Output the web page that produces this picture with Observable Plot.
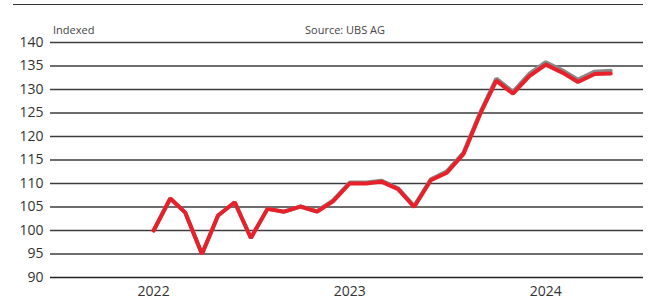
<!DOCTYPE html>
<html>
<head>
<meta charset="utf-8">
<script src="https://cdn.jsdelivr.net/npm/d3@7"></script>
<script src="https://cdn.jsdelivr.net/npm/@observablehq/plot@0.6"></script>
<style>
  body { margin: 0; background: #fff; }
  #wrap { position: relative; width: 649px; height: 302px; font-family: "Open Sans", sans-serif; }
  #rule { position: absolute; left: 13px; right: 6px; top: 4px; height: 0; border-top: 1.5px solid #333; }
  .hdr { position: absolute; top: 22px; font-size: 11px; color: #444; }
</style>
</head>
<body>
<div id="wrap">
  <div id="rule"></div>
  <div class="hdr" style="left:53px">Indexed</div>
  <div class="hdr" style="left:305px">Source: UBS AG</div>
</div>
<script>
// Monthly observations, Jan 2022 – May 2024
const months = [
  "2022-01","2022-02","2022-03","2022-04","2022-05","2022-06","2022-07","2022-08","2022-09","2022-10","2022-11","2022-12",
  "2023-01","2023-02","2023-03","2023-04","2023-05","2023-06","2023-07","2023-08","2023-09","2023-10","2023-11","2023-12",
  "2024-01","2024-02","2024-03","2024-04","2024-05"
];
const redSeries = [
  100.0, 106.8, 103.8, 95.0, 103.2, 106.0, 98.4, 104.6, 104.0, 105.1, 104.0, 106.2,
  110.0, 110.0, 110.4, 108.8, 105.0, 110.7, 112.3, 116.3, 124.8, 131.9, 129.1, 132.8,
  135.3, 133.6, 131.6, 133.3, 133.4
];
const greySeries = [
  100.0, 106.8, 103.8, 95.0, 103.2, 106.0, 98.4, 104.6, 104.0, 105.1, 104.1, 106.4,
  110.2, 110.2, 110.6, 109.0, 105.2, 110.9, 112.6, 116.6, 125.1, 132.3, 129.5, 133.3,
  135.8, 134.1, 132.1, 133.8, 134.0
];
const yTicks = [90, 95, 100, 105, 110, 115, 120, 125, 130, 135, 140];
const xTickYears = ["2022-01", "2023-01", "2024-01"];

const parse = d3.utcParse("%Y-%m");
const red = months.map((m, i) => ({date: parse(m), value: redSeries[i]}));
const grey = months.map((m, i) => ({date: parse(m), value: greySeries[i]}));

const chart = Plot.plot({
  width: 649,
  height: 302,
  marginTop: 42,
  marginBottom: 25,
  marginLeft: 50,
  marginRight: 6,
  style: {fontFamily: "'Open Sans', sans-serif", fontSize: "14px", color: "#333", background: "transparent"},
  x: {
    type: "utc",
    domain: [new Date(Date.UTC(2021, 5, 23)), new Date(Date.UTC(2024, 6, 1))],
    ticks: xTickYears.map(parse),
    tickFormat: d3.utcFormat("%Y"),
    tickSize: 0,
    tickPadding: 9,
    label: null
  },
  y: {
    domain: [90, 140],
    ticks: yTicks,
    tickSize: 0,
    tickPadding: 7,
    label: null
  },
  marks: [
    Plot.ruleY(yTicks.filter(t => t !== 90), {stroke: "#3c3c3c", strokeWidth: 1.3}),
    Plot.ruleY([90], {stroke: "#222", strokeWidth: 1.5}),
    Plot.lineY(grey, {x: "date", y: "value", stroke: "#8a8a8a", strokeWidth: 4, strokeLinejoin: "miter"}),
    Plot.lineY(red, {x: "date", y: "value", stroke: "#e8202a", strokeWidth: 4, strokeLinejoin: "miter"})
  ]
});
document.getElementById("wrap").appendChild(chart);
</script>
</body>
</html>
